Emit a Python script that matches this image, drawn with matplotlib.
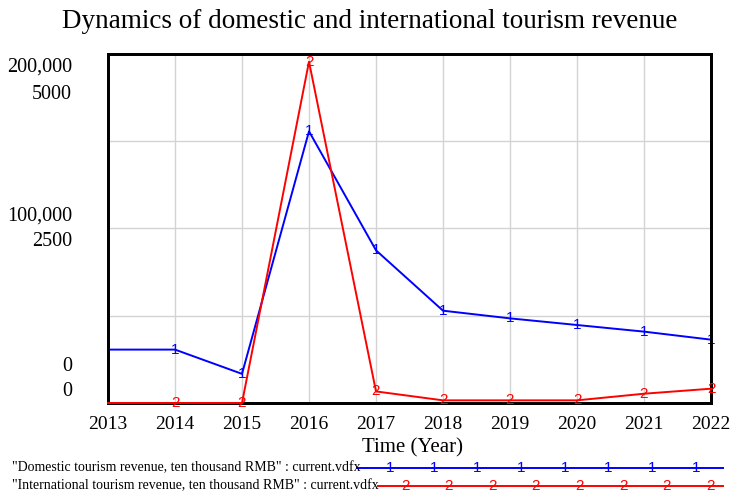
import matplotlib
matplotlib.use("Agg")
import matplotlib.pyplot as plt
from matplotlib.lines import Line2D
import matplotlib.transforms as mtransforms

plt.rcParams['font.family'] = ['Liberation Serif', 'DejaVu Serif']

years = [2013, 2014, 2015, 2016, 2017, 2018, 2019, 2020, 2021, 2022]
domestic = [30600, 30600, 16700, 155700, 87500, 52900, 48500, 44700, 40900, 36300]
international = [0, 0, 0, 4890, 166, 38, 38, 38, 133, 205]

title = "Dynamics of domestic and international tourism revenue"
xlabel = "Time (Year)"
dom_label = '"Domestic tourism revenue, ten thousand RMB" : current.vdfx'
int_label = '"International tourism revenue, ten thousand RMB" : current.vdfx'
dom_ticks = ["0", "100,000", "200,000"]
int_ticks = ["0", "2500", "5000"]
dom_max = 200000
int_max = 5000

W, H = 730, 494
fig = plt.figure(figsize=(W / 100, H / 100), dpi=100)
ax = fig.add_axes([108 / W, (H - 403) / H, (711 - 108) / W, (403 - 54) / H])
ax2 = ax.twinx()

blue = '#0000ff'
red = '#ff0000'
mfont = 'Liberation Sans'

ax.plot(years, domestic, color=blue, lw=1.4, zorder=3, clip_on=False)
for x, y in zip(years[1:], domestic[1:]):
    ax.text(x, y, "1", color=blue, fontsize=11, ha='center', va='center',
            family=mfont, zorder=4, clip_on=False)
ax2.plot(years, international, color=red, lw=1.4, zorder=3, clip_on=False)
for x, y in zip(years[1:], international[1:]):
    ax2.text(x, y, "2", color=red, fontsize=11, ha='center', va='center',
             family=mfont, zorder=4, clip_on=False)

ax.set_xlim(years[0], years[-1])
ax.set_ylim(0, dom_max)
ax2.set_ylim(0, int_max)
ax.set_xticks(years)
ax.set_xticklabels([str(y) for y in years], fontsize=14)
ax.set_yticks([0, dom_max / 4, dom_max / 2, dom_max * 3 / 4, dom_max])
ax.set_yticklabels([])
ax2.set_yticks([])
ax.tick_params(axis='both', length=0, pad=9)
ax.grid(True, color='#d3d3d3', lw=1)
ax.set_axisbelow(True)
for a in (ax, ax2):
    for s in a.spines.values():
        s.set_linewidth(2)
        s.set_color('black')

# stacked y labels (Vensim style)
trans = mtransforms.blended_transform_factory(fig.transFigure, ax.transData)
lx = 72 / W
fs = 14.5
off = dom_max * 0.036
ax.text(lx, dom_max - off, dom_ticks[2], transform=trans, ha='right', va='center', fontsize=fs)
ax.text(lx, dom_max - 3.2 * off, int_ticks[2], transform=trans, ha='right', va='center', fontsize=fs)
ax.text(lx, dom_max / 2 + off, dom_ticks[1], transform=trans, ha='right', va='center', fontsize=fs)
ax.text(lx, dom_max / 2 - off, int_ticks[1], transform=trans, ha='right', va='center', fontsize=fs)
ax.text(lx, 2.9 * off, dom_ticks[0], transform=trans, ha='right', va='center', fontsize=fs)
ax.text(lx, 0.95 * off, int_ticks[0], transform=trans, ha='right', va='center', fontsize=fs)

fig.text(370 / W, 1 - 21 / H, title, ha='center', va='center', fontsize=19.5)
fig.text(413 / W, 1 - 448 / H, xlabel, ha='center', va='center', fontsize=15)

# legend
fig.text(12 / W, 1 - 468 / H, dom_label, ha='left', va='center', fontsize=10)
fig.text(12 / W, 1 - 486 / H, int_label, ha='left', va='center', fontsize=10)
fig.add_artist(Line2D([357 / W, 723 / W], [1 - 468 / H] * 2, color=blue, lw=1.4))
fig.add_artist(Line2D([378 / W, 723 / W], [1 - 486 / H] * 2, color=red, lw=1.4))
for i in range(8):
    fig.text((390 + i * 43.7) / W, 1 - 468 / H, "1", color=blue, fontsize=11,
             ha='center', va='center', family=mfont)
    fig.text((405 + i * 43.6) / W, 1 - 486 / H, "2", color=red, fontsize=11,
             ha='center', va='center', family=mfont)

fig.savefig("out.png", dpi=100)
